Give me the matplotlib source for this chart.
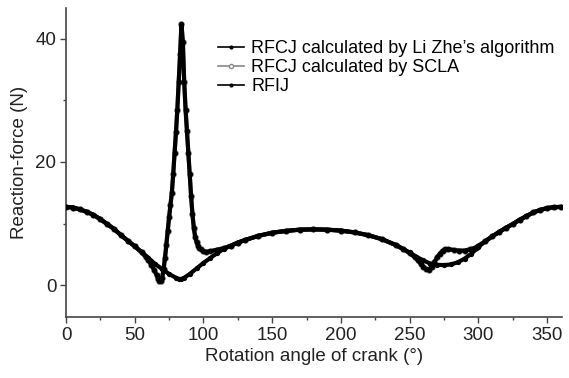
import matplotlib
matplotlib.use("Agg")
import matplotlib.pyplot as plt
import numpy as np

plt.rcParams['font.family'] = ['Liberation Sans', 'DejaVu Sans']

# RFCJ (Li Zhe's algorithm and SCLA give the same curve)
ang_fc = [0, 5, 10, 15, 20, 25, 30, 35, 40, 45, 50, 55, 58, 60, 62, 64, 66, 67, 68, 69,
          70, 71, 72, 73, 74, 75, 76, 77, 78, 79, 80, 81, 82, 83, 84, 85, 86, 87, 88, 89,
          90, 91, 92, 93, 94, 95, 96, 97, 98, 100, 102, 105, 110, 115, 120, 125, 130, 140,
          150, 160, 170, 180, 190, 200, 210, 220, 230, 240, 245, 250, 254, 256, 258, 260,
          262, 264, 266, 268, 270, 272, 274, 276, 278, 282, 286, 290, 294, 298, 300, 305,
          310, 315, 320, 325, 330, 335, 340, 345, 350, 355, 360]
rfcj = [12.7, 12.6, 12.3, 11.9, 11.4, 10.7, 9.9, 9.1, 8.1, 7.2, 6.3, 5.3, 4.6, 4.0, 3.3, 2.5, 1.6, 1.0, 0.6, 0.6,
        1.2, 2.6, 4.4, 6.5, 8.8, 11.0, 13.0, 15.0, 18.0, 21.5, 24.8, 28.5, 33.0, 37.5, 42.4, 39.5, 33.0, 28.5, 25.0, 21.5,
        18.0, 14.5, 11.5, 9.3, 7.8, 7.0, 6.4, 6.0, 5.8, 5.5, 5.4, 5.5, 5.75, 6.0, 6.4, 6.9, 7.3, 8.0,
        8.5, 8.8, 9.0, 9.05, 9.0, 8.85, 8.55, 8.1, 7.45, 6.5, 5.9, 5.2, 4.5, 4.0, 3.5, 3.0,
        2.6, 2.5, 2.9, 3.7, 4.5, 5.1, 5.6, 5.85, 5.85, 5.7, 5.6, 5.6, 5.8, 6.1, 6.4, 7.1,
        7.9, 8.6, 9.3, 9.9, 10.6, 11.2, 11.8, 12.2, 12.5, 12.65, 12.7]

# RFIJ
ang_fi = [0, 5, 10, 15, 20, 25, 30, 35, 40, 45, 50, 55, 60, 65, 70, 75, 80, 82, 84, 86,
          90, 95, 100, 105, 110, 115, 120, 125, 130, 140, 150, 160, 170, 180, 190, 200, 210,
          220, 230, 240, 245, 250, 255, 260, 265, 270, 275, 280, 285, 290, 295, 300, 305,
          310, 315, 320, 325, 330, 335, 340, 345, 350, 355, 360]
rfij = [12.7, 12.6, 12.3, 11.9, 11.4, 10.7, 9.9, 9.1, 8.1, 7.2, 6.3, 5.4, 4.4, 3.4, 2.6, 1.8, 1.2, 1.0, 1.0, 1.2,
        1.8, 2.7, 3.6, 4.4, 5.2, 5.9, 6.4, 6.9, 7.3, 8.0, 8.5, 8.8, 9.0, 9.05, 9.0, 8.85, 8.55,
        8.1, 7.45, 6.5, 5.9, 5.3, 4.6, 4.0, 3.5, 3.3, 3.25, 3.35, 3.7, 4.3, 5.1, 6.2, 7.1,
        7.9, 8.6, 9.3, 9.9, 10.6, 11.2, 11.8, 12.2, 12.5, 12.65, 12.7]

fig = plt.figure(figsize=(5.69, 3.78), dpi=100)
ax = fig.add_axes((0.116, 0.161, 0.872, 0.818))

ax.plot(ang_fc, rfcj, '-o', color='black', lw=3.0, ms=3.8, mew=0,
        label="RFCJ calculated by Li Zhe\u2019s algorithm", zorder=3)
ax.plot(ang_fc, rfcj, '-o', color='#888888', mfc='white', mec='#888888', lw=3.0, ms=3.8,
        label='RFCJ calculated by SCLA', zorder=2)
ax.plot(ang_fi, rfij, '-o', color='black', lw=3.0, ms=3.8, mew=0, label='RFIJ', zorder=3)

ax.set_xlim(0, 361)
ax.set_ylim(-5.2, 45)
ax.set_xticks([0, 50, 100, 150, 200, 250, 300, 350])
ax.set_xticks(np.arange(25, 361, 50), minor=True)
ax.set_yticks([0, 20, 40])
ax.set_yticks([10, 30], minor=True)

for s in ['top', 'right']:
    ax.spines[s].set_visible(False)
for s in ['left', 'bottom']:
    ax.spines[s].set_color('#444444')
    ax.spines[s].set_linewidth(1.2)
ax.tick_params(which='major', direction='out', length=4, width=1, color='#444444',
               labelsize=13.5, labelcolor='#222222', pad=3)
ax.tick_params(which='minor', direction='out', length=2.5, width=1, color='#444444')

ax.set_xlabel('Rotation angle of crank (\u00b0)', fontsize=13.5, color='#222222', labelpad=3)
ax.set_ylabel('Reaction-force (N)', fontsize=13.5, color='#222222', labelpad=5)

leg = ax.legend(loc='upper left', bbox_to_anchor=(0.306, 0.895), frameon=False,
                fontsize=13, handlelength=1.45, handletextpad=0.4, labelspacing=0.1,
                borderpad=0, borderaxespad=0)
for h in leg.legend_handles:
    h.set_linewidth(1.2)
    h.set_markersize(3)

fig.savefig('out.png', dpi=100)
